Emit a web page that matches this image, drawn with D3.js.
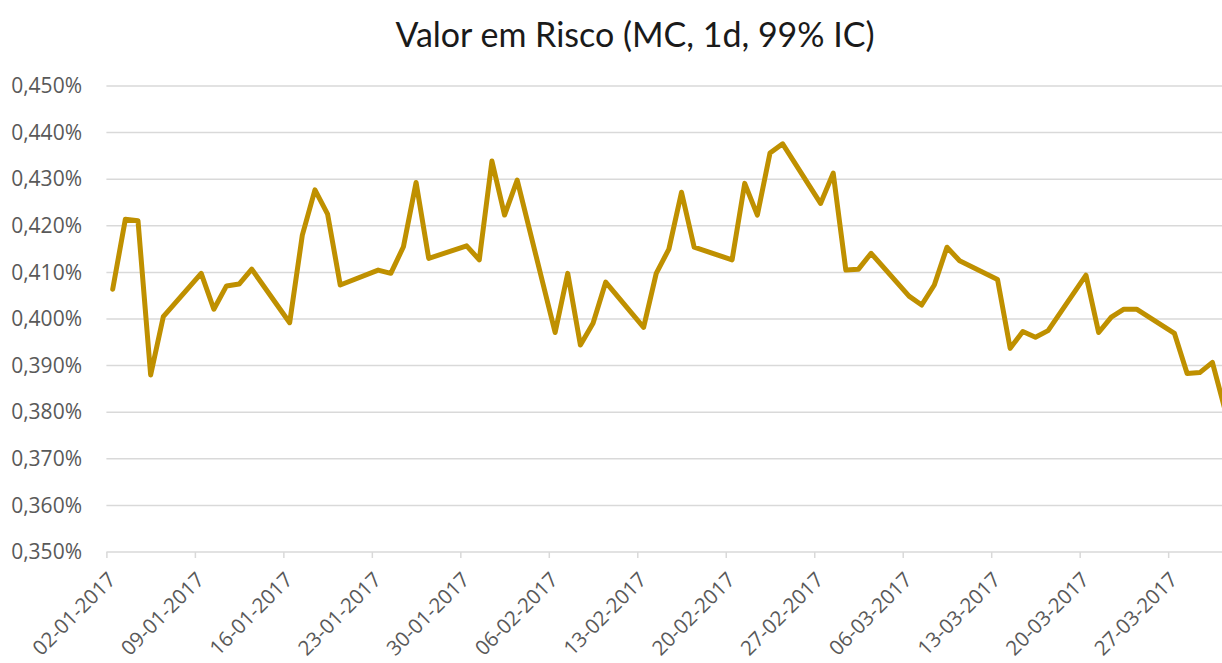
<!DOCTYPE html>
<html>
<head>
<meta charset="utf-8">
<script src="https://cdn.jsdelivr.net/npm/d3@7"></script>
<style>
  html, body { margin: 0; padding: 0; background: #fff; overflow: hidden; }
  svg { display: block; }
</style>
</head>
<body>
<div id="chart"></div>
<script>
const title = "Valor em Risco (MC, 1d, 99% IC)";

const dates = [
  "02-01-2017","03-01-2017","04-01-2017","05-01-2017","06-01-2017",
  "09-01-2017","10-01-2017","11-01-2017","12-01-2017","13-01-2017",
  "16-01-2017","17-01-2017","18-01-2017","19-01-2017","20-01-2017",
  "23-01-2017","24-01-2017","25-01-2017","26-01-2017","27-01-2017",
  "30-01-2017","31-01-2017","01-02-2017","02-02-2017","03-02-2017",
  "06-02-2017","07-02-2017","08-02-2017","09-02-2017","10-02-2017",
  "13-02-2017","14-02-2017","15-02-2017","16-02-2017","17-02-2017",
  "20-02-2017","21-02-2017","22-02-2017","23-02-2017","24-02-2017",
  "27-02-2017","28-02-2017","01-03-2017","02-03-2017","03-03-2017",
  "06-03-2017","07-03-2017","08-03-2017","09-03-2017","10-03-2017",
  "13-03-2017","14-03-2017","15-03-2017","16-03-2017","17-03-2017",
  "20-03-2017","21-03-2017","22-03-2017","23-03-2017","24-03-2017",
  "27-03-2017","28-03-2017","29-03-2017","30-03-2017","31-03-2017"
];

// VaR values in %
const values = [
  0.4064, 0.4214, 0.4211, 0.3880, 0.4005,
  0.4098, 0.4021, 0.4071, 0.4075, 0.4107,
  0.3992, 0.4180, 0.4277, 0.4225, 0.4073,
  0.4105, 0.4098, 0.4155, 0.4293, 0.4130,
  0.4157, 0.4127, 0.4339, 0.4223, 0.4298,
  0.3971, 0.4098, 0.3944, 0.3991, 0.4079,
  0.3982, 0.4098, 0.4150, 0.4272, 0.4154,
  0.4127, 0.4291, 0.4223, 0.4356, 0.4376,
  0.4248, 0.4313, 0.4105, 0.4107, 0.4141,
  0.4049, 0.4030, 0.4073, 0.4154, 0.4125,
  0.4085, 0.3937, 0.3973, 0.3961, 0.3975,
  0.4094, 0.3971, 0.4004, 0.4021, 0.4021,
  0.3969, 0.3883, 0.3885, 0.3907, 0.3805
];

const xTickLabels = [
  "02-01-2017","09-01-2017","16-01-2017","23-01-2017","30-01-2017",
  "06-02-2017","13-02-2017","20-02-2017","27-02-2017","06-03-2017",
  "13-03-2017","20-03-2017","27-03-2017"
];

const yTicks = [0.350, 0.360, 0.370, 0.380, 0.390, 0.400, 0.410, 0.420, 0.430, 0.440, 0.450];

const xDomain = ["02-01-2017", "01-04-2017"];

const W = 1222, H = 663;
const parse = d3.utcParse("%d-%m-%Y");
const DAY = 86400000;

const svg = d3.select("#chart").append("svg")
  .attr("width", W).attr("height", H)
  .attr("viewBox", `0 0 ${W} ${H}`);

const plotLeft = 106.4, plotTop = 86, plotBottom = 552;
const dayW = 12.64;
const dom = xDomain.map(parse);
const nDays = (dom[1] - dom[0]) / DAY;
const x = d3.scaleUtc()
  .domain(dom)
  .range([plotLeft, plotLeft + nDays * dayW]);
const y = d3.scaleLinear()
  .domain([0.350, 0.450])
  .range([plotBottom, plotTop]);

const fmtPct = v => d3.format(".3f")(v).replace(".", ",") + "%";

// gridlines
const grid = svg.append("g");
grid.selectAll("line").data(yTicks.filter(t => t > 0.350)).join("line")
  .attr("x1", plotLeft).attr("x2", W + 20)
  .attr("y1", d => y(d)).attr("y2", d => y(d))
  .attr("stroke", "#d9d9d9").attr("stroke-width", 1.5);

// y axis labels
const yAxis = d3.axisLeft(y).tickValues(yTicks).tickFormat(fmtPct).tickSize(0).tickPadding(0);
const gy = svg.append("g").attr("transform", `translate(82,0)`).call(yAxis);
gy.select(".domain").remove();
gy.selectAll("text")
  .attr("fill", "#595959")
  .style("font-family", "'Open Sans', sans-serif")
  .style("font-size", "21px");

// x axis
const tickDates = xTickLabels.map(parse);
const xAxis = d3.axisBottom(x).tickValues(tickDates).tickSize(6).tickFormat(d3.utcFormat("%d-%m-%Y"));
const gx = svg.append("g").attr("transform", `translate(0,${plotBottom})`).call(xAxis);
gx.select(".domain").attr("stroke", "#d9d9d9").attr("stroke-width", 1.5)
  .attr("d", `M${plotLeft},0H${W + 20}`);
gx.selectAll(".tick line").attr("stroke", "#d9d9d9").attr("stroke-width", 1.5);
gx.selectAll(".tick text")
  .attr("fill", "#595959")
  .style("font-family", "'Open Sans', sans-serif")
  .style("font-size", "20.5px")
  .attr("text-anchor", "end")
  .attr("y", 0).attr("dy", "0.35em")
  .attr("transform", "translate(5,24) rotate(-45)");

// line
const pts = dates.map((d, i) => ({ date: parse(d), v: values[i] }));
const line = d3.line()
  .x(d => x(new Date(d.date.getTime() + DAY / 2)))
  .y(d => y(d.v));
svg.append("path").datum(pts)
  .attr("d", line)
  .attr("fill", "none")
  .attr("stroke", "#BF9000")
  .attr("stroke-width", 5)
  .attr("stroke-linejoin", "round")
  .attr("stroke-linecap", "round");

// title
svg.append("text")
  .attr("x", 635).attr("y", 47)
  .attr("text-anchor", "middle")
  .attr("fill", "#1a1a1a")
  .style("font-family", "Lato, sans-serif")
  .style("font-size", "34px")
  .text(title);
</script>
</body>
</html>
